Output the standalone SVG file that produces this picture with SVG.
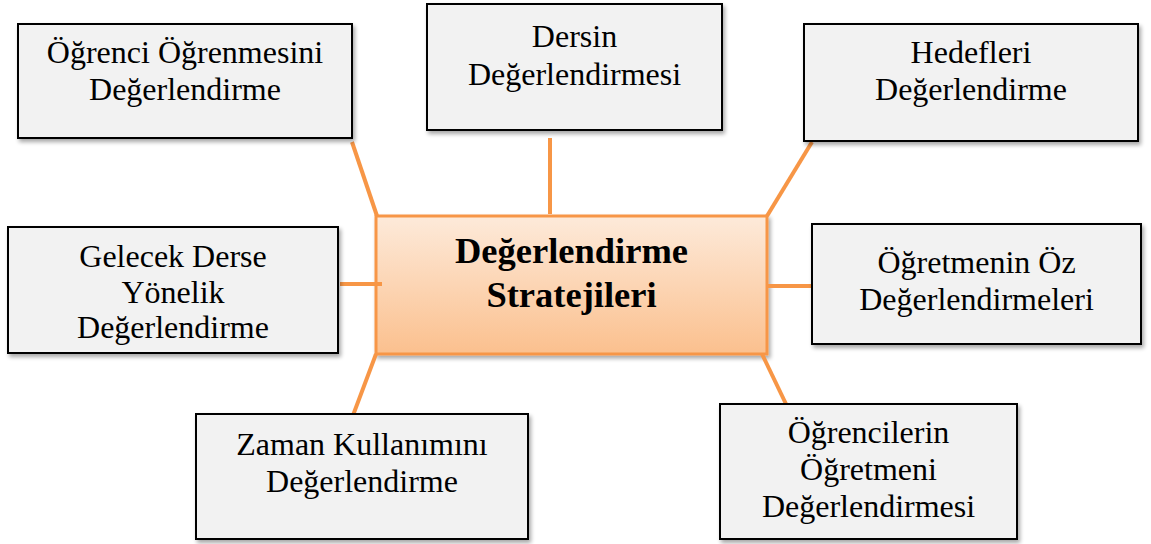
<svg xmlns="http://www.w3.org/2000/svg" width="1151" height="544" viewBox="0 0 1151 544">
  <style>
    .box { fill: #F2F2F2; stroke: #000000; stroke-width: 2; filter: url(#shadow); }
    .hub { fill: url(#hubFill); stroke: #F79646; stroke-width: 3; filter: url(#shadow); }
    .lbl { font-family: "Liberation Serif", "Times New Roman", serif; font-size: 32px; fill: #000000; text-anchor: middle; }
    .hubLbl { font-family: "Liberation Serif", "Times New Roman", serif; font-size: 36.5px; font-weight: bold; fill: #000000; text-anchor: middle; }
    .link { stroke: #F79646; stroke-width: 4; fill: none; }
  </style>
  <defs>
    <linearGradient id="hubFill" x1="0" y1="0" x2="0" y2="1">
      <stop offset="0" stop-color="#FDEADA"/>
      <stop offset="1" stop-color="#FBC08E"/>
    </linearGradient>
    <filter id="shadow" x="-10%" y="-10%" width="125%" height="130%">
      <feGaussianBlur in="SourceAlpha" stdDeviation="2"/>
      <feOffset dx="2" dy="3" result="blur"/>
      <feComponentTransfer><feFuncA type="linear" slope="0.35"/></feComponentTransfer>
      <feMerge><feMergeNode/><feMergeNode in="SourceGraphic"/></feMerge>
    </filter>
  </defs>
  <rect width="1151" height="544" fill="#FFFFFF"/>

  <g id="hub">
    <rect class="hub" x="376" y="216" width="391" height="138"/>
    <text class="hubLbl" x="571.5" y="263">Değerlendirme</text>
    <text class="hubLbl" x="571.5" y="307">Stratejileri</text>
  </g>

  <!-- spokes from the hub to each strategy -->
  <g id="connectors">
    <line class="link" x1="352" y1="142" x2="377" y2="216"/>
    <line class="link" x1="550" y1="138" x2="550" y2="214"/>
    <line class="link" x1="812" y1="142" x2="767" y2="216"/>
    <line class="link" x1="340" y1="284" x2="382" y2="284"/>
    <line class="link" x1="767" y1="286" x2="812" y2="286"/>
    <line class="link" x1="376" y1="354" x2="352" y2="418"/>
    <line class="link" x1="762" y1="354" x2="786" y2="404"/>
  </g>

  <g id="ogrenci-ogrenmesi">
    <rect class="box" x="18" y="24" width="334" height="114"/>
    <text class="lbl" x="185" y="63">Öğrenci Öğrenmesini</text>
    <text class="lbl" x="185" y="100">Değerlendirme</text>
  </g>

  <g id="dersin">
    <rect class="box" x="427" y="4" width="295" height="126"/>
    <text class="lbl" x="574.5" y="47">Dersin</text>
    <text class="lbl" x="574.5" y="85">Değerlendirmesi</text>
  </g>

  <g id="hedefleri">
    <rect class="box" x="804" y="24" width="334" height="117"/>
    <text class="lbl" x="971" y="63">Hedefleri</text>
    <text class="lbl" x="971" y="100">Değerlendirme</text>
  </g>

  <g id="gelecek-ders">
    <rect class="box" x="8" y="227" width="330" height="126"/>
    <text class="lbl" x="173" y="267">Gelecek Derse</text>
    <text class="lbl" x="173" y="303">Yönelik</text>
    <text class="lbl" x="173" y="338">Değerlendirme</text>
  </g>

  <g id="ogretmen-oz">
    <rect class="box" x="812" y="224" width="329" height="120"/>
    <text class="lbl" x="976.5" y="273">Öğretmenin Öz</text>
    <text class="lbl" x="976.5" y="310">Değerlendirmeleri</text>
  </g>

  <g id="zaman">
    <rect class="box" x="196" y="414" width="332" height="125"/>
    <text class="lbl" x="362" y="455">Zaman Kullanımını</text>
    <text class="lbl" x="362" y="492">Değerlendirme</text>
  </g>

  <g id="ogrenciler-ogretmeni">
    <rect class="box" x="720" y="404" width="297" height="135"/>
    <text class="lbl" x="868.5" y="443">Öğrencilerin</text>
    <text class="lbl" x="868.5" y="480">Öğretmeni</text>
    <text class="lbl" x="868.5" y="517">Değerlendirmesi</text>
  </g>
</svg>
